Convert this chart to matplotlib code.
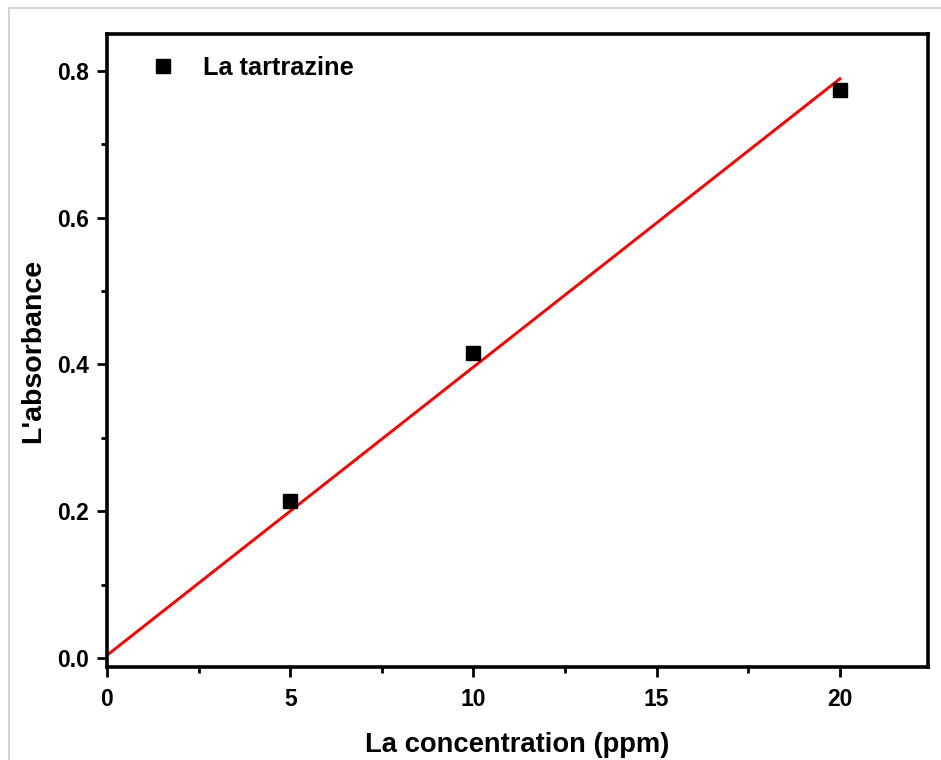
import numpy as np
import matplotlib.pyplot as plt
from matplotlib.lines import Line2D

plt.rcParams['font.family'] = ['Liberation Sans', 'DejaVu Sans']
plt.rcParams['font.weight'] = 'bold'

# Calibration data: tartrazine
conc = [5, 10, 20]             # ppm
absorb = [0.214, 0.416, 0.774]  # absorbance

# Fitted line
fit_x = [0, 20]
fit_y = [0.004, 0.789]

fig = plt.figure(figsize=(9.41, 7.6), dpi=100)
ax = fig.add_axes([0.1137, 0.1224, 0.8723, 0.8329])

ax.plot(fit_x, fit_y, color='red', lw=2.1, zorder=2)
ax.plot(conc, absorb, 's', color='black', ms=10, zorder=3, label='La tartrazine')

ax.set_xlim(0, 22.4)
ax.set_ylim(-0.012, 0.85)
ax.set_xticks([0, 5, 10, 15, 20])
ax.set_xticks(np.arange(2.5, 22.4, 5), minor=True)
ax.set_yticks([0.0, 0.2, 0.4, 0.6, 0.8])
ax.set_yticks([0.1, 0.3, 0.5, 0.7], minor=True)
ax.set_yticklabels(['0.0', '0.2', '0.4', '0.6', '0.8'])

for s in ax.spines.values():
    s.set_linewidth(2.6)
ax.tick_params(which='major', direction='out', length=7, width=2, labelsize=16.5)
ax.tick_params(axis='x', which='major', pad=8)
ax.tick_params(axis='y', which='major', pad=6)
ax.tick_params(which='minor', direction='out', length=4, width=2)
for t in ax.get_xticklabels() + ax.get_yticklabels():
    t.set_fontweight('bold')

ax.set_xlabel('La concentration (ppm)', fontsize=19.7, fontweight='bold', labelpad=15)
ax.set_ylabel("L'absorbance", fontsize=20.5, fontweight='bold', labelpad=8)

ax.legend(loc='upper left', bbox_to_anchor=(18/818, 1.0 + 3/634), frameon=False,
          handlelength=1.0, handletextpad=1.05, borderaxespad=0.6, markerscale=1.0,
          prop={'weight': 'bold', 'size': 18.3})

# light border at top-left edge of the image
fig.add_artist(Line2D([9/941, 9/941], [0, 1 - 8/760], color='#cccccc', lw=1.2))
fig.add_artist(Line2D([9/941, 1], [1 - 8/760, 1 - 8/760], color='#cccccc', lw=1.2))

fig.savefig('out.png', dpi=100)
